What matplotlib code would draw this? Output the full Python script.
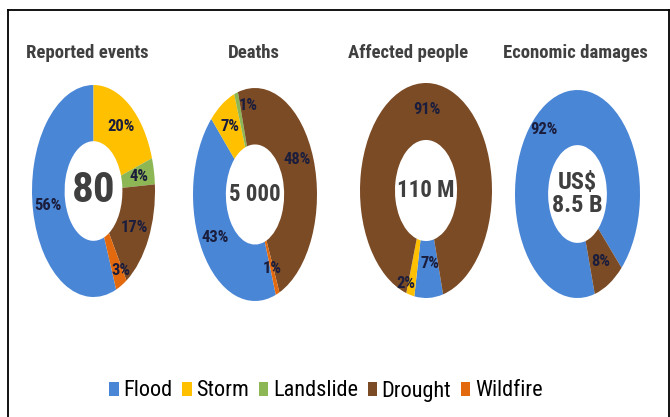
import numpy as np
import matplotlib
matplotlib.use("Agg")
import matplotlib.pyplot as plt
from matplotlib.lines import Line2D
from matplotlib.patches import Patch

# ------------------------------------------------------------
# Data
# ------------------------------------------------------------
CATEGORIES = ["Flood", "Storm", "Landslide", "Drought", "Wildfire"]

PANEL_TITLES = ["Reported events", "Deaths", "Affected people", "Economic damages"]
PANEL_TOTALS = ["80", "5 000", "110 M", "US$\n8.5 B"]

REPORTED_EVENTS = [56, 20, 4, 17, 3]
DEATHS = [43, 7, 1, 48, 1]
AFFECTED_PEOPLE = [7, 2, 0, 91, 0]
ECONOMIC_DAMAGES = [92, 0, 0, 8, 0]

# ------------------------------------------------------------
# Style
# ------------------------------------------------------------
COLORS = ["#4A86D6", "#FFC000", "#8DB655", "#7B4B26", "#E2690E"]
FONT = ["Roboto Condensed", "DejaVu Sans"]
START_ANGLES = [291.6, 289.6, -75, -74]
TOTAL_SIZES = [31, 16.5, 16.5, 17.5]
RING_WIDTH = 0.53
LABEL_R = 0.75

# small slices are pushed apart so their labels do not collide
# (panel, category index) -> (angle shift in degrees, radius)
LABEL_NUDGE = {
    (0, 4): (4, 0.88),
    (1, 2): (-10, 0.84),
    (1, 3): (6, 0.75),
    (2, 0): (3, 0.68),
    (2, 1): (-6, 0.92),
    (3, 0): (10, 0.82),
}

W, H = 670, 417

# donut boxes in pixels: left, top, right, bottom
BOXES = [
    (32, 85, 155, 297),
    (193, 88, 317, 301),
    (360, 83, 492, 298),
    (515, 90, 640, 298),
]
TITLE_X = [87, 254, 408, 575]
TITLE_Y = 53


def px_axes(fig, box):
    l, t, r, b = box
    return fig.add_axes([l / W, 1 - b / H, (r - l) / W, (b - t) / H])


fig = plt.figure(figsize=(W / 100, H / 100), dpi=100)
fig.patch.set_facecolor("white")

panels = [REPORTED_EVENTS, DEATHS, AFFECTED_PEOPLE, ECONOMIC_DAMAGES]

for i, values in enumerate(panels):
    ax = px_axes(fig, BOXES[i])
    wedges, _ = ax.pie(
        values,
        colors=COLORS,
        startangle=START_ANGLES[i],
        counterclock=False,
        radius=1.0,
        wedgeprops=dict(width=RING_WIDTH, linewidth=0),
    )
    ax.set_aspect("auto")
    ax.set_xlim(-1, 1)
    ax.set_ylim(-1, 1)

    # percentage labels at the middle of each slice
    for j, (w, v) in enumerate(zip(wedges, values)):
        if v <= 0:
            continue
        mid = (w.theta1 + w.theta2) / 2
        shift, r = LABEL_NUDGE.get((i, j), (0, LABEL_R))
        ang = np.deg2rad(mid + shift)
        ax.text(
            r * np.cos(ang), r * np.sin(ang), f"{v}%",
            ha="center", va="center",
            fontsize=12, fontweight="bold", color="#1B1D3C", family=FONT,
        )

    ax.text(
        0, 0, PANEL_TOTALS[i],
        ha="center", va="center",
        fontsize=TOTAL_SIZES[i], fontweight="bold",
        color="#3F3F3F", family=FONT, linespacing=1.05,
    )
    fig.text(
        TITLE_X[i] / W, 1 - TITLE_Y / H, PANEL_TITLES[i],
        ha="center", va="center",
        fontsize=13.5, fontweight="bold", color="#404040", family=FONT,
    )

handles = [Patch(facecolor=c, edgecolor="none") for c in COLORS]
fig.legend(
    handles, CATEGORIES,
    loc="center", bbox_to_anchor=(326 / W, 1 - 391 / H),
    ncol=5, frameon=False,
    prop=dict(family=FONT, size=16),
    handlelength=0.42, handleheight=0.6, handletextpad=0.2,
    columnspacing=0.45,
)

# thin black frame around the chart area
frame_kw = dict(color="black", linewidth=1.3, transform=fig.transFigure)
fig.add_artist(Line2D([8 / W, 8 / W], [-0.02, 1 - 10 / H], **frame_kw))
fig.add_artist(Line2D([8 / W, 669 / W], [1 - 10 / H, 1 - 10 / H], **frame_kw))
fig.add_artist(Line2D([669 / W, 669 / W], [-0.02, 1 - 10 / H], **frame_kw))

fig.savefig("out.png", dpi=100, facecolor="white")
